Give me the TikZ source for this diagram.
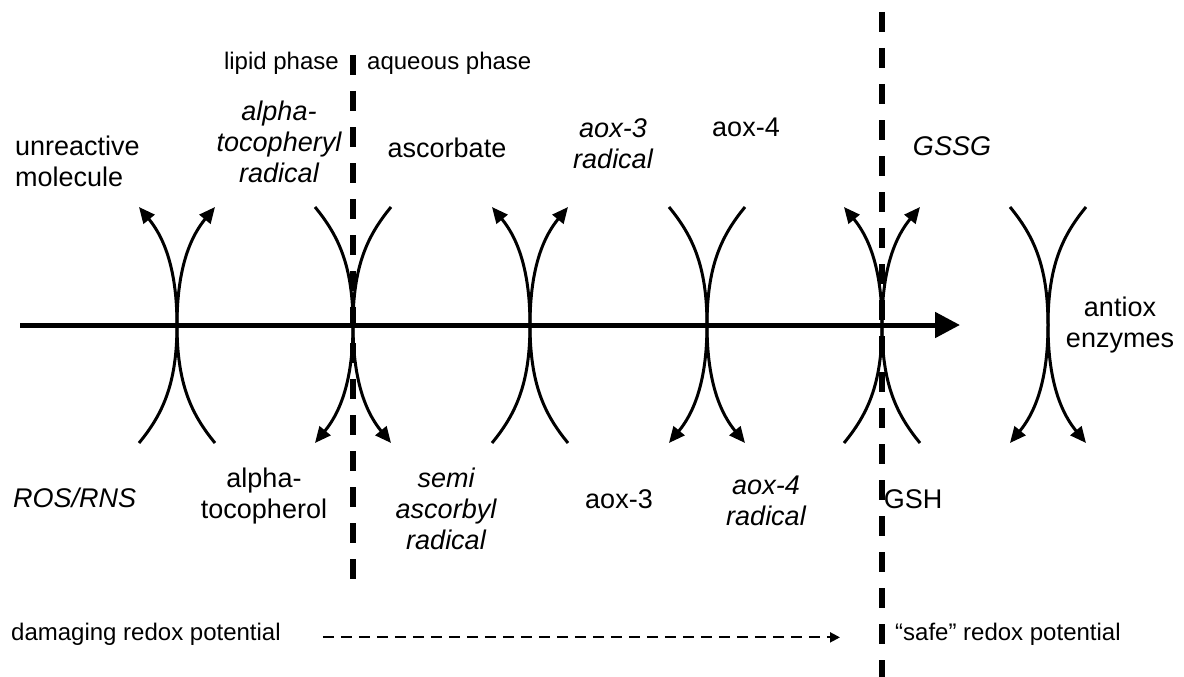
\documentclass[tikz,border=0pt]{standalone}
\usepackage{fontspec}
\setmainfont{Liberation Sans}
\usetikzlibrary{arrows.meta,calc}

\begin{document}
\begin{tikzpicture}[x=1pt, y=-1pt,
  lbl/.style={font=\fontsize{27}{31}\selectfont, align=center, inner sep=0pt, anchor=base},
  rad/.style={lbl, font=\fontsize{27}{31}\selectfont\itshape},
  note/.style={font=\fontsize{24}{28}\selectfont, inner sep=0pt},
  swap/.style={line width=3pt},
  swapup/.style={swap, {Triangle[length=16pt,width=14pt]}-},
  swapdown/.style={swap, -{Triangle[length=16pt,width=14pt]}},
  phase/.style={line width=6pt, dash pattern=on 20pt off 16pt},
  flow/.style={line width=5pt, -{Triangle[length=25pt,width=25pt]}},
  drift/.style={line width=2pt, dash pattern=on 11pt off 7pt, -{Triangle[length=10pt,width=10pt]}}
]
  \useasboundingbox (0,0) rectangle (1184,677);

  % phase boundaries
  \coordinate (lipTop) at (353,55);
  \coordinate (lipBot) at (353,580);
  \coordinate (safeTop) at (882,12);
  \coordinate (safeBot) at (882,680);
  \draw[phase] (lipTop) -- (lipBot);
  \draw[phase] (safeTop) -- (safeBot);

  % redox axis
  \coordinate (axisL) at (20,325);
  \coordinate (axisR) at (960,325);
  \draw[flow] (axisL) -- (axisR);

  % coupled reactions
  \foreach \cx/\way [count=\i] in {177/up,353/down,530/up,707/down,882/up,1048/down}{
    \coordinate (x\i) at (\cx,325);
    \foreach \s in {-1,1}
      \draw[swap\way] ($(x\i)+(\s*38,-118)$) .. controls ($(x\i)+(\s*15,-90)$) and ($(x\i)+(0,-60)$) .. (x\i)
        .. controls ($(x\i)+(0,60)$) and ($(x\i)+(\s*15,90)$) .. ($(x\i)+(\s*38,118)$);
  }

  % phase labels
  \node[note, anchor=base east] (lipid) at (339,70) {lipid phase};
  \node[note, anchor=base west] (aqueous) at (367,70) {aqueous phase};

  % upper row (base = last line)
  \node[lbl, align=left, anchor=base west] (unreact) at (15,186) {unreactive\\molecule};
  \node[rad] (tocoRad) at (279,182) {alpha-\\tocopheryl\\radical};
  \node[lbl] (ascorb) at (447,157) {ascorbate};
  \node[rad] (aox3Rad) at (613,168) {aox-3\\radical};
  \node[lbl] (aox4) at (746,136) {aox-4};
  \node[rad] (gssg) at (952,155) {GSSG};
  \node[lbl] (enzymes) at (1120,347) {antiox\\enzymes};

  % lower row
  \node[rad, anchor=base west] (ros) at (13,507) {ROS/RNS};
  \node[lbl] (toco) at (264,518) {alpha-\\tocopherol};
  \node[rad] (semiRad) at (446,549) {semi\\ascorbyl\\radical};
  \node[lbl] (aox3) at (619,508) {aox-3};
  \node[rad] (aox4Rad) at (766,525) {aox-4\\radical};
  \node[lbl] (gsh) at (913,508) {GSH};

  % legend
  \node[note, anchor=base west] (damage) at (11,640) {damaging redox potential};
  \node[note, anchor=base west] (safe) at (895,640) {“safe” redox potential};
  \draw[drift] ([xshift=42pt]damage.mid east) -- ([xshift=-55pt]safe.mid west);
\end{tikzpicture}
\end{document}
